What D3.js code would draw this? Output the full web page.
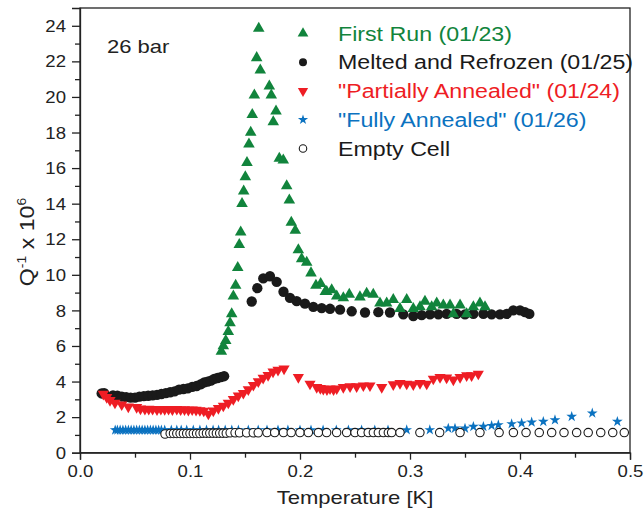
<!DOCTYPE html>
<html lang="en">
<head>
<meta charset="UTF-8">
<title>Q^-1 vs Temperature, 26 bar</title>
<script src="https://d3js.org/d3.v7.min.js"></script>
<style>
  body { margin: 0; background: #fff; }
  svg { display: block; font-family: "Liberation Sans", Arial, sans-serif; }
  .axis path, .axis line { stroke: #222; stroke-width: 1.3px; }
  .frame { fill: none; stroke: #222; stroke-width: 1.3px; }
</style>
</head>
<body>
<svg></svg>
<script>
// First Run (01/23)
const firstRunT = [0.1285,0.1303,0.1325,0.1348,0.1364,0.1379,0.1394,0.1415,0.1434,0.1448,0.1461,0.1473,0.1488,0.1503,0.1518,0.1536,0.1552,0.1566,0.1585,0.1606,0.1625,0.1639,0.1721,0.1739,0.1757,0.1782,0.1812,0.1848,0.1879,0.1903,0.1921,0.1957,0.1985,0.2015,0.2061,0.21,0.2145,0.2188,0.223,0.2243,0.2288,0.2334,0.2394,0.2448,0.2545,0.2606,0.2666,0.2727,0.2788,0.2848,0.2909,0.297,0.303,0.3091,0.3136,0.3197,0.3243,0.3303,0.3364,0.3394,0.3455,0.3515,0.3576,0.3636,0.3682];
const firstRunQ = [5.7,6.0,6.3,6.8,7.3,7.8,8.8,9.4,10.4,11.7,12.4,14.0,14.7,15.5,16.3,17.35,18.0,19.0,20.1,22.2,23.85,21.5,20.6,20.1,18.6,19.2,16.55,16.45,15.0,14.2,12.95,12.5,11.4,10.9,10.7,10.1,9.4,9.5,9.05,9.05,9.15,8.8,8.7,8.9,8.75,8.95,8.9,8.4,8.4,8.6,8.1,8.6,8.1,8.2,8.5,8.2,8.4,8.3,8.3,7.8,8.3,7.8,8.2,8.4,8.2];

// Melted and Refrozen (01/25)
const meltedT = [0.0197,0.022,0.030,0.034,0.038,0.042,0.046,0.050,0.054,0.058,0.062,0.066,0.070,0.074,0.078,0.082,0.086,0.090,0.094,0.098,0.102,0.106,0.110,0.113,0.116,0.119,0.122,0.125,0.128,0.131,
  0.1561,0.1612,0.1666,0.1727,0.1788,0.185,0.1909,0.197,0.2045,0.2121,0.2197,0.2273,0.2364,0.247,0.2591,0.2712,0.2818,0.2939,0.303,0.3106,0.3182,0.3258,0.3333,0.3424,0.35,0.3576,0.3667,0.3742,0.3818,0.3879,0.3939,0.4,0.4045,0.4085];
const meltedQ = [3.33,3.35,3.22,3.2,3.15,3.12,3.1,3.1,3.15,3.18,3.2,3.22,3.25,3.3,3.35,3.4,3.45,3.55,3.58,3.62,3.7,3.75,3.85,3.95,4.0,4.05,4.15,4.2,4.25,4.3,
  8.5,9.25,9.8,9.92,9.6,9.05,8.7,8.52,8.38,8.2,8.13,8.09,8.04,7.95,7.88,7.9,7.88,7.78,7.68,7.73,7.78,7.78,7.8,7.8,7.78,7.8,7.8,7.78,7.78,7.8,8.0,8.0,7.9,7.8];

// "Partially Annealed" (01/24)
const partialT = [0.0212,0.0243,0.0273,0.0318,0.0379,0.0439,0.0515,0.055,0.059,0.0625,0.066,0.070,0.0735,0.077,0.0805,0.084,0.088,0.0915,0.095,0.0985,0.102,0.1055,0.109,0.1125,0.1167,
  0.1212,0.1258,0.1303,0.1348,0.1394,0.1439,0.1485,0.153,0.1576,0.1621,0.1665,0.171,0.1755,0.18,0.1855,
  0.1985,0.2091,0.2152,0.2185,0.2212,0.2245,0.2273,0.2305,0.2334,0.2394,0.2455,0.2515,0.2576,0.2636,0.2743,0.2848,0.2909,0.297,0.303,0.3091,0.3152,0.3212,0.3273,0.3333,0.3394,0.3455,0.3515,0.356,0.3621];
const partialQ = [3.3,3.12,2.95,2.8,2.7,2.58,2.55,2.47,2.45,2.46,2.45,2.43,2.45,2.44,2.45,2.42,2.45,2.42,2.43,2.4,2.42,2.4,2.38,2.35,2.18,
  2.36,2.5,2.63,2.8,3.0,3.2,3.35,3.55,3.8,4.0,4.2,4.35,4.55,4.65,4.72,
  4.24,3.87,3.68,3.62,3.58,3.55,3.6,3.55,3.6,3.68,3.72,3.72,3.77,3.77,3.68,3.83,3.9,3.87,3.83,3.9,3.87,4.15,4.24,4.21,4.1,4.24,4.34,4.34,4.43];

// "Fully Annealed" (01/26)
const fullyT = [0.032,0.034,0.0365,0.039,0.0415,0.044,0.0465,0.049,0.0515,0.054,0.0565,0.059,0.0615,0.064,0.0665,0.069,0.0715,0.074,
  0.077,0.083,0.088,0.092,0.097,0.103,0.109,0.115,0.121,0.126,0.132,0.138,0.144,0.153,0.162,0.17,0.18,0.189,0.2,0.21,0.221,0.233,0.244,0.256,0.268,0.28,0.297,0.318,
  0.3348,0.3409,0.35,0.3576,0.3667,0.3742,0.3803,0.3924,0.4015,0.4106,0.4212,0.4318,0.447,0.4657,0.4885];
const fullyQ = [1.27,1.27,1.27,1.27,1.27,1.27,1.27,1.27,1.27,1.27,1.27,1.27,1.27,1.27,1.27,1.27,1.27,1.27,
  1.27,1.27,1.27,1.27,1.27,1.27,1.27,1.27,1.27,1.27,1.27,1.27,1.27,1.27,1.27,1.27,1.27,1.27,1.27,1.27,1.27,1.27,1.27,1.27,1.27,1.27,1.28,1.28,
  1.37,1.37,1.37,1.47,1.47,1.52,1.56,1.62,1.66,1.71,1.75,1.84,2.03,2.22,1.75];

// Empty Cell
const emptyT = [0.0773,0.082,0.085,0.088,0.091,0.094,0.097,0.1,0.103,0.106,0.109,0.112,0.115,0.118,0.121,0.124,0.127,0.13,0.133,
  0.1365,0.141,0.145,0.1515,0.1575,0.162,0.17,0.177,0.185,0.192,0.2,0.2076,0.2167,0.2242,0.2333,0.2424,0.25,0.256,0.262,0.2667,0.2712,0.2758,0.2803,0.2833,0.2909,
  0.309,0.327,0.3455,0.3636,0.381,0.394,0.4055,0.4175,0.4288,0.44,0.4515,0.462,0.4734,0.4843,0.4948];
const emptyQ = [1.05,1.08,1.08,1.08,1.08,1.08,1.08,1.08,1.08,1.08,1.08,1.1,1.1,1.1,1.1,1.1,1.1,1.1,1.1,
  1.12,1.12,1.12,1.12,1.12,1.12,1.13,1.13,1.13,1.13,1.13,1.13,1.13,1.13,1.13,1.13,1.13,1.13,1.13,1.13,1.13,1.13,1.13,1.13,1.13,
  1.13,1.13,1.13,1.13,1.13,1.13,1.13,1.13,1.13,1.13,1.13,1.13,1.13,1.13,1.13];

const legendLabels = ["First Run (01/23)", "Melted and Refrozen (01/25)", "\"Partially Annealed\" (01/24)", "\"Fully Annealed\" (01/26)", "Empty Cell"];
const xTicks = [0, 0.1, 0.2, 0.3, 0.4, 0.5];
const yTicks = [0, 2, 4, 6, 8, 10, 12, 14, 16, 18, 20, 22, 24];

const width = 644, height = 519;
const plotL = 80, plotR = 630, plotT = 8, plotB = 452.7;
const stretch = 1.16; // the source font is drawn wider than Arial

const GREEN = "#11843c", RED = "#ee1d24", BLUE = "#0b72c0", BLACK = "#1a1a1a";

const svg = d3.select("svg").attr("width", width).attr("height", height);

const x = d3.scaleLinear().domain([0, 0.5]).range([plotL, plotR]);
const y = d3.scaleLinear().domain([0, 25]).range([plotB, plotT]);

// frame
svg.append("rect").attr("class", "frame")
    .attr("x", plotL).attr("y", plotT)
    .attr("width", plotR - plotL).attr("height", plotB - plotT);

// minor ticks
svg.append("g").attr("class", "axis")
    .attr("transform", `translate(0,${plotB})`)
    .call(d3.axisBottom(x).tickValues(d3.range(0.05, 0.5, 0.1)).tickSize(5).tickFormat(""))
    .call(g => g.select(".domain").remove());
svg.append("g").attr("class", "axis")
    .attr("transform", `translate(${plotL},0)`)
    .call(d3.axisLeft(y).tickValues(d3.range(1, 25, 2)).tickSize(5).tickFormat(""))
    .call(g => g.select(".domain").remove());

// major ticks
const xAxis = svg.append("g").attr("class", "axis")
    .attr("transform", `translate(0,${plotB})`)
    .call(d3.axisBottom(x).tickValues(xTicks).tickSize(7).tickFormat(d3.format(".1f")));
xAxis.selectAll("text")
    .attr("y", null).attr("dy", null)
    .attr("transform", `translate(0,24) scale(${stretch},1)`)
    .attr("font-size", 16).attr("fill", "#222");

const yAxis = svg.append("g").attr("class", "axis")
    .attr("transform", `translate(${plotL},0)`)
    .call(d3.axisLeft(y).tickValues(yTicks).tickSize(8).tickFormat(d3.format("d")));
yAxis.selectAll("text")
    .attr("x", null).attr("dy", "0.35em")
    .attr("transform", `translate(-14,0) scale(${stretch},1)`)
    .attr("font-size", 16).attr("fill", "#222");

// axis titles
svg.append("text")
    .attr("transform", `translate(${(plotL + plotR) / 2},504) scale(${stretch},1)`)
    .attr("text-anchor", "middle").attr("font-size", 19).attr("fill", "#222")
    .text("Temperature [K]");

const yTitle = svg.append("text")
    .attr("transform", `translate(34,242) rotate(-90) scale(${stretch},1)`)
    .attr("text-anchor", "middle").attr("font-size", 20).attr("fill", "#222");
yTitle.append("tspan").text("Q");
yTitle.append("tspan").attr("dy", -8).attr("font-size", 12).text("-1");
yTitle.append("tspan").attr("dy", 8).text(" x 10");
yTitle.append("tspan").attr("dy", -8).attr("font-size", 12).text("6");

svg.append("text")
    .attr("transform", `translate(107,53) scale(${stretch},1)`)
    .attr("font-size", 19).attr("fill", "#222")
    .text("26 bar");

// markers
const triUp = d3.symbol().type(d3.symbolTriangle).size(58);
const triDown = d3.symbol().type(d3.symbolTriangle).size(54);
const dot = d3.symbol().type(d3.symbolCircle).size(84);
const star = d3.symbol().type(d3.symbolStar).size(36);
const ring = d3.symbol().type(d3.symbolCircle).size(56);

function plot(ts, qs, path, opts) {
    svg.append("g").selectAll("path")
        .data(ts.map((t, i) => [t, qs[i]]))
        .join("path")
        .attr("d", path)
        .attr("transform", d => `translate(${x(d[0])},${y(d[1])})` + (opts.flip ? " rotate(180)" : ""))
        .attr("fill", opts.fill)
        .attr("stroke", opts.stroke || "none")
        .attr("stroke-width", opts.sw || 0);
}

plot(fullyT, fullyQ, star, { fill: BLUE });
plot(emptyT, emptyQ, ring, { fill: "#fff", stroke: BLACK, sw: 1.1 });
plot(meltedT, meltedQ, dot, { fill: BLACK });
plot(partialT, partialQ, triDown, { fill: RED, flip: true });
plot(firstRunT, firstRunQ, triUp, { fill: GREEN });

// legend
const legendSym = [
    { path: d3.symbol().type(d3.symbolTriangle).size(50), fill: GREEN },
    { path: d3.symbol().type(d3.symbolCircle).size(50), fill: BLACK },
    { path: d3.symbol().type(d3.symbolTriangle).size(46), fill: RED, flip: true },
    { path: d3.symbol().type(d3.symbolStar).size(32), fill: BLUE },
    { path: d3.symbol().type(d3.symbolCircle).size(44), fill: "#fff", stroke: BLACK, sw: 1.1 }
];
const legendColors = [GREEN, BLACK, RED, BLUE, BLACK];
const rowY = d3.scaleLinear().domain([0, 4]).range([33.5, 148.5]);

const legend = svg.append("g");
legendLabels.forEach((label, i) => {
    const s = legendSym[i];
    legend.append("path")
        .attr("d", s.path)
        .attr("transform", `translate(303,${rowY(i)})` + (s.flip ? " rotate(180)" : ""))
        .attr("fill", s.fill)
        .attr("stroke", s.stroke || "none")
        .attr("stroke-width", s.sw || 0);
    legend.append("text")
        .attr("transform", `translate(338,${rowY(i) + 7}) scale(${stretch},1)`)
        .attr("font-size", 20)
        .attr("fill", legendColors[i])
        .text(label);
});
</script>
</body>
</html>
